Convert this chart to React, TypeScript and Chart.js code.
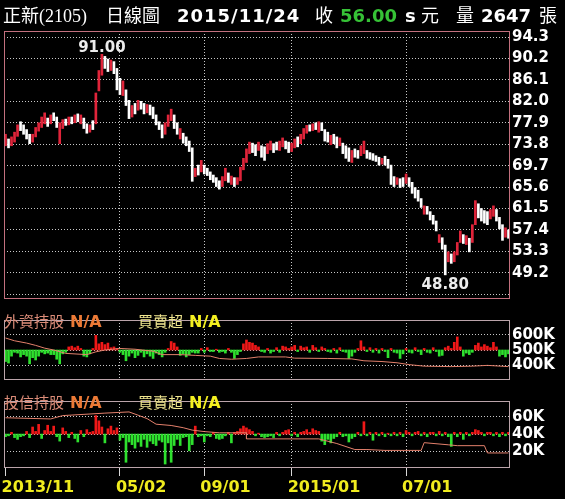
import React, { useEffect, useRef } from 'react';
import Chart from 'chart.js/auto';

// ---- x axis: one slot per three trading sessions, 2013/11 .. 2015/11/24 ----
const dateTickSlot = [0, 38, 66, 95, 133];
const dateTickText = ['2013/11', '05/02', '09/01', '2015/01', '07/01'];

// ---- price panel ----
const priceTicks = [94.3, 90.2, 86.1, 82.0, 77.9, 73.8, 69.7, 65.6, 61.5, 57.4, 53.3, 49.2, 45.1];

const priceHigh = [
  75.7, 74.8, 75.2, 76.1, 77.5, 78.1, 77.5, 76.6, 75.7, 75.7,
  77.0, 77.9, 79.0, 79.8, 78.8, 79.4, 79.8, 79.0, 77.9, 78.5,
  78.6, 79.0, 79.0, 79.4, 79.6, 79.4, 78.8, 77.7, 77.5, 78.3,
  83.6, 87.9, 91.0, 90.6, 90.1, 89.9, 89.6, 88.3, 86.4, 85.9,
  84.2, 82.2, 81.2, 81.6, 82.2, 82.0, 81.6, 81.4, 81.3, 80.9,
  79.4, 78.1, 77.5, 77.9, 79.4, 80.5, 79.4, 77.9, 76.8, 75.9,
  75.2, 74.4, 73.1, 69.2, 69.8, 70.7, 69.8, 69.2, 68.5, 67.9,
  67.4, 66.8, 67.6, 69.2, 68.3, 67.7, 67.4, 67.4, 69.4, 71.1,
  72.9, 74.2, 74.0, 73.7, 74.2, 73.5, 73.3, 73.9, 74.4, 73.9,
  74.2, 74.4, 75.0, 74.4, 74.2, 74.0, 74.8, 75.2, 75.7, 76.8,
  77.4, 77.5, 77.7, 77.9, 78.1, 77.9, 76.6, 76.1, 75.5, 75.7,
  75.2, 75.0, 74.0, 73.5, 73.1, 72.6, 72.9, 72.6, 73.5, 74.4,
  72.6, 72.2, 72.0, 71.6, 71.3, 71.1, 71.5, 70.9, 69.8, 67.6,
  67.4, 67.2, 67.4, 68.1, 67.4, 66.5, 65.5, 65.0, 63.4, 62.0,
  61.9, 60.9, 60.2, 59.1, 56.5, 55.9, 54.5, 53.2, 52.8, 53.2,
  55.0, 57.2, 56.5, 56.3, 55.8, 58.4, 63.0, 62.4, 61.5, 61.1,
  60.9, 61.3, 62.0, 61.3, 59.8, 58.4, 57.8, 57.4,
];

const priceLow = [
  73.5, 73.1, 73.5, 74.2, 75.3, 76.4, 75.7, 74.8, 73.9, 74.2,
  75.2, 76.3, 77.0, 77.7, 77.2, 77.7, 78.3, 77.0, 73.9, 76.8,
  77.4, 77.5, 77.7, 77.9, 78.1, 77.7, 76.8, 75.9, 76.1, 76.6,
  77.7, 84.0, 87.0, 88.3, 87.7, 87.9, 87.3, 84.2, 83.3, 83.1,
  81.2, 78.7, 79.0, 79.6, 80.3, 80.5, 79.6, 79.8, 79.4, 78.7,
  77.5, 76.6, 75.0, 75.7, 77.2, 78.3, 76.8, 75.7, 74.8, 74.0,
  73.5, 72.4, 66.7, 67.6, 67.9, 68.5, 68.1, 67.8, 67.0, 66.5,
  65.7, 65.2, 65.7, 66.8, 66.5, 66.1, 65.7, 66.1, 66.8, 68.9,
  70.3, 72.0, 72.2, 71.6, 72.6, 71.3, 70.7, 72.0, 72.7, 72.2,
  72.7, 72.6, 73.3, 72.9, 72.2, 72.4, 73.1, 73.3, 73.9, 74.8,
  75.9, 76.3, 76.4, 76.6, 76.1, 76.4, 74.4, 74.2, 73.7, 73.9,
  73.1, 73.5, 72.0, 71.1, 70.5, 70.3, 71.3, 71.1, 71.6, 72.0,
  71.1, 70.9, 70.7, 70.5, 69.8, 70.0, 69.8, 69.2, 66.1, 65.7,
  66.1, 65.5, 65.7, 66.3, 65.7, 64.4, 63.5, 62.9, 61.7, 60.4,
  60.4, 59.3, 58.5, 57.2, 55.0, 53.7, 48.8, 51.3, 51.0, 51.3,
  52.6, 55.0, 54.8, 54.6, 53.2, 55.0, 58.4, 59.7, 59.1, 58.7,
  58.4, 59.5, 60.0, 59.1, 57.6, 55.4, 56.0, 55.8,
];

// R = closed higher (red), W = closed lower (white)
const priceDir = (
  'RWRRRWWWWR' + 'RRRRWRWWRR' + 'WRWRWRWWRW' + 'RRRWWRWWWR' + 'WWRWRWWRWW' +
  'WWWRRRWWRW' + 'WWWRWRWWWW' + 'WWRRWRWRRR' + 'RRWWRWWRRW' + 'WRRWWRRWRR' +
  'RWRWRWWWRW' + 'WRWWWRWWRR' + 'WWWWWRWWWW' + 'RWWRWWWWWR' + 'WWWWRWWRWR' +
  'RRWRWRRWWW' + 'WRRWWWRW'
).split('');

// ---- foreign investors: holdings (K) and net buy/sell ----
const foreignTicks = [400, 500, 600];
const foreignHoldSlot = [0, 3, 7, 10, 13, 16, 20, 27, 30, 33, 38, 43, 49, 52, 58, 63, 68, 71, 75, 80, 84, 93, 96, 107, 115, 119, 125, 130, 134, 139, 148, 155, 160, 167];
const foreignHold = [578, 560, 545, 530, 512, 500, 478, 470, 488, 500, 510, 505, 492, 470, 470, 465, 460, 445, 440, 445, 455, 455, 447, 445, 442, 430, 425, 417, 405, 395, 392, 395, 400, 392];
const foreignNet = [
  -15, -17, -8, -3, -4, -9, -6, -8, -18, -10,
  -13, -8, -3, -5, -4, -6, -6, -12, -18, -5,
  -3, 4, 5, 3, 5, 2, -8, -9, -5, 2,
  19, 8, 10, 7, 9, 3, 4, 2, -3, -6,
  -14, -8, -4, -10, -7, -3, -9, -5, -8, -11,
  -4, -6, -9, -3, 2, 11, 9, 4, -7, -5,
  -9, -6, -3, -4, -4, 2, -3, 3, -2, -2,
  1, -3, -2, -4, 2, -3, -11, -6, -2, 8,
  13, 10, 9, 6, 4, -2, -3, 2, -4, -2,
  3, -3, 5, 4, 2, 4, 6, -2, 5, 3,
  4, -3, 6, 3, -2, 4, 2, -2, -3, 2,
  -4, 3, -2, -3, -11, -8, -3, 2, 12, 4,
  -2, 3, -3, 2, -4, 2, -2, -10, 2, -3,
  -4, -11, -5, 2, -3, -4, 3, -2, -6, 2,
  -3, -4, 3, -2, -8, -7, 3, 5, 2, 10,
  17, 4, -8, -4, -6, -3, 6, 9, 4, 7,
  5, 3, 10, 4, -8, -6, -9, -5,
];

// ---- investment trusts: holdings (K) and net buy/sell ----
const trustTicks = [20, 40, 60];
const trustHoldSlot = [0, 15, 19, 33, 41, 44, 47, 50, 55, 59, 62, 66, 71, 80, 80, 104, 110, 116, 120, 126, 138, 139, 147, 150, 159, 160, 167];
const trustHold = [59, 57.6, 61.5, 64.4, 65.8, 62, 58, 51.5, 50, 47.4, 44.6, 42.9, 41.5, 41.5, 34.4, 34.4, 29, 22, 22, 21, 21, 30, 27.5, 26.5, 26.5, 18, 18];
const trustNet = [
  -3, -2, 2, -4, -6, -3, -2, 3, -4, 8,
  3, 11, -5, 4, 10, 3, 9, -3, -8, 7,
  3, -4, 2, -5, -9, 4, -3, 5, 2, 3,
  21, 15, 8, -10, 6, 9, 4, 7, -7, -4,
  -32, -9, -12, -16, -9, -14, -6, -15, -8, -11,
  -13, -7, -9, -34, -10, -32, -13, -6, -13, -4,
  -3, -19, -12, 9, -3, -2, -9, -2, -3, 2,
  -5, -6, -5, -2, 2, -10, 2, 3, 6, 9,
  7, 5, 3, -2, 1, -3, -4, -3, -2, -4,
  2, -2, 2, 4, 5, -2, 2, -3, 2, 3,
  5, 2, 6, 4, 3, -8, -12, -6, -10, -5,
  -3, 2, -3, -2, -9, -5, -3, 2, -2, 14,
  -2, 2, -7, 2, -2, 2, -3, 1, -2, 2,
  -2, 2, -3, 4, 2, -2, 2, 3, -2, 2,
  -3, 2, 2, -2, 3, -2, 2, -3, -14, 2,
  -3, 2, -6, 2, -2, 2, 5, 4, 2, -2,
  2, 2, -2, 2, -3, 2, -2, 2,
];

// ---- styling ----
const SLOTS = priceHigh.length;
const SANS = "'DejaVu Sans', sans-serif";
const CJK = "'Noto Sans CJK TC', sans-serif";
const GRID = '#c8c8c8';
const UP_RED = '#e0243a';
const BAR_RED = '#f01818';
const BAR_GREEN = '#2ee02e';
const HOLD_LINE = '#e4806c';
const AXIS_FONT = { family: SANS, size: 15, weight: 'bold' as const };

const frame = (color: string) => ({
  id: 'panelFrame',
  afterDraw(chart: any) {
    const { ctx, chartArea: a } = chart;
    ctx.save();
    ctx.strokeStyle = color;
    ctx.lineWidth = 1;
    ctx.strokeRect(Math.round(a.left) + 0.5, Math.round(a.top) + 0.5,
      Math.round(a.right - a.left) - 1, Math.round(a.bottom - a.top) - 1);
    ctx.restore();
  },
});

// labels for the highest high and the lowest low
const extremes = {
  id: 'extremes',
  afterDatasetsDraw(chart: any) {
    const { ctx, scales } = chart;
    let hi = 0;
    let lo = 0;
    priceHigh.forEach((v, i) => { if (v > priceHigh[hi]) hi = i; });
    priceLow.forEach((v, i) => { if (v < priceLow[lo]) lo = i; });
    ctx.save();
    ctx.font = `bold 15px ${SANS}`;
    ctx.fillStyle = '#ececec';
    ctx.textAlign = 'center';
    ctx.textBaseline = 'alphabetic';
    ctx.fillText(priceHigh[hi].toFixed(2), scales.x.getPixelForValue(hi), scales.y.getPixelForValue(priceHigh[hi]) - 2);
    ctx.fillText(priceLow[lo].toFixed(2), scales.x.getPixelForValue(lo), scales.y.getPixelForValue(priceLow[lo]) + 14);
    ctx.restore();
  },
};

function xAxis(showLabels: boolean) {
  return {
    type: 'linear',
    offset: false,
    min: -0.5,
    max: SLOTS - 0.5,
    afterBuildTicks: (s: any) => { s.ticks = dateTickSlot.map((v) => ({ value: v })); },
    afterFit: (s: any) => { s.height = showLabels ? 31 : 0; },
    grid: {
      offset: false,
      color: (c: any) => (c.tick && c.tick.value === dateTickSlot[0] ? 'rgba(0,0,0,0)' : GRID),
      lineWidth: 1,
      drawTicks: showLabels,
      tickLength: 8,
      tickColor: '#d8d8d8',
      tickBorderDash: [],
    },
    border: { display: false, dash: [1, 2] },
    ticks: {
      display: showLabels,
      autoSkip: false,
      maxRotation: 0,
      minRotation: 0,
      align: 'start',
      labelOffset: -4,
      padding: 2,
      color: '#f0ec1e',
      font: { family: SANS, size: 16, weight: 'bold' },
      callback: (v: number) => {
        const k = dateTickSlot.indexOf(v);
        return k >= 0 ? dateTickText[k] : '';
      },
    },
  };
}

function yAxis(min: number, max: number, ticks: number[], fmt: (v: number) => string) {
  return {
    position: 'right',
    min,
    max,
    afterBuildTicks: (s: any) => { s.ticks = ticks.map((v) => ({ value: v })); },
    afterFit: (s: any) => { s.width = 55; },
    grid: { color: GRID, lineWidth: 1, drawTicks: false },
    border: { display: false, dash: [1, 2] },
    ticks: { padding: 2, color: '#ffffff', font: AXIS_FONT, callback: fmt },
  };
}

const common = {
  responsive: false,
  animation: false,
  devicePixelRatio: 1,
  events: [],
};

function priceConfig(): any {
  return {
    type: 'bar',
    data: {
      datasets: [{
        data: priceHigh.map((h, i) => ({ x: i, y: [priceLow[i], h] })),
        backgroundColor: priceDir.map((d) => (d === 'R' ? UP_RED : '#ffffff')),
        borderWidth: 0,
        barThickness: 2,
      }],
    },
    options: {
      ...common,
      layout: { padding: { left: 4, top: 31, right: 0, bottom: 1 } },
      plugins: { legend: { display: false }, tooltip: { enabled: false } },
      scales: {
        x: xAxis(false),
        y: yAxis(44.18, 95.46, priceTicks, (v: number) => (v < 46 ? '' : v.toFixed(1))),
      },
    },
    plugins: [frame('#c3707e'), extremes],
  };
}

function flowConfig(
  net: number[], holdSlot: number[], hold: number[],
  holdMin: number, holdMax: number, holdTicks: number[],
  netMin: number, netMax: number, showDates: boolean, padTop: number,
): any {
  return {
    type: 'bar',
    data: {
      datasets: [
        {
          type: 'line',
          data: holdSlot.map((s, k) => ({ x: s, y: hold[k] })),
          yAxisID: 'y',
          borderColor: HOLD_LINE,
          borderWidth: 1,
          pointRadius: 0,
          tension: 0,
          order: 1,
        },
        {
          type: 'bar',
          data: net.map((v, i) => ({ x: i, y: v })),
          yAxisID: 'net',
          backgroundColor: net.map((v) => (v >= 0 ? BAR_RED : BAR_GREEN)),
          borderWidth: 0,
          barThickness: 2,
          order: 2,
        },
      ],
    },
    options: {
      ...common,
      layout: { padding: { left: 4, top: padTop, right: 0, bottom: showDates ? 0 : 2 } },
      plugins: { legend: { display: false }, tooltip: { enabled: false } },
      scales: {
        x: xAxis(showDates),
        y: yAxis(holdMin, holdMax, holdTicks, (v: number) => `${v}K`),
        net: { display: false, min: netMin, max: netMax },
      },
    },
    plugins: [frame('#bba4aa')],
  };
}

function Cell({ w, style, children }: { w?: number; style: React.CSSProperties; children: React.ReactNode }) {
  return (
    <span style={{ display: 'inline-block', width: w, whiteSpace: 'pre', ...style }}>{children}</span>
  );
}

function PanelCaption({ top, label }: { top: number; label: string }) {
  return (
    <div style={{ position: 'absolute', left: 4, top, whiteSpace: 'nowrap', lineHeight: '18px', fontFamily: SANS }}>
      <Cell w={66} style={{ color: '#dc8c78', fontFamily: CJK, fontSize: 15 }}>{label}</Cell>
      <Cell w={68} style={{ color: '#ec7a36', fontWeight: 'bold', fontSize: 16 }}>N/A</Cell>
      <Cell w={51} style={{ color: '#efe58e', fontFamily: CJK, fontSize: 15 }}>買賣超</Cell>
      <Cell style={{ color: '#f4f020', fontWeight: 'bold', fontSize: 16 }}>N/A</Cell>
    </div>
  );
}

export default function App() {
  const priceRef = useRef<HTMLCanvasElement>(null);
  const foreignRef = useRef<HTMLCanvasElement>(null);
  const trustRef = useRef<HTMLCanvasElement>(null);

  useEffect(() => {
    const charts = [
      new Chart(priceRef.current!, priceConfig()),
      new Chart(foreignRef.current!, flowConfig(foreignNet, foreignHoldSlot, foreignHold, 305, 695, foreignTicks, -39, 39, false, 2)),
      new Chart(trustRef.current!, flowConfig(trustNet, trustHoldSlot, trustHold, 0.5, 78.5, trustTicks, -38.5, 37.5, true, 2)),
    ];
    return () => charts.forEach((c) => c.destroy());
  }, []);

  const bold = { fontFamily: SANS, fontWeight: 'bold' as const, fontSize: 18 };
  const cjk = { fontFamily: CJK, fontSize: 18 };

  return (
    <div style={{ position: 'fixed', left: 0, top: 0, width: 565, height: 499, background: '#000', overflow: 'hidden' }}>
      <canvas ref={priceRef} width={565} height={310} style={{ position: 'absolute', left: 0, top: 0, width: 565, height: 310 }} />
      <canvas ref={foreignRef} width={565} height={82} style={{ position: 'absolute', left: 0, top: 309, width: 565, height: 82 }} />
      <canvas ref={trustRef} width={565} height={109} style={{ position: 'absolute', left: 0, top: 390, width: 565, height: 109 }} />

      <div style={{ position: 'absolute', left: 3, top: 4, whiteSpace: 'nowrap', lineHeight: '20px', color: '#ffffff', fontFamily: SANS, fontSize: 18 }}>
        <Cell w={103} style={{ fontFamily: `'Liberation Serif', ${CJK}`, fontSize: 18 }}>正新(2105)</Cell>
        <Cell w={71} style={cjk}>日線圖</Cell>
        <Cell w={138} style={{ ...bold, letterSpacing: 1 }}>2015/11/24</Cell>
        <Cell w={25} style={cjk}>收</Cell>
        <Cell w={65} style={{ ...bold, color: '#36c236' }}>56.00</Cell>
        <Cell w={16} style={bold}>s</Cell>
        <Cell w={35} style={cjk}>元</Cell>
        <Cell w={25} style={cjk}>量</Cell>
        <Cell w={58} style={bold}>2647</Cell>
        <Cell style={cjk}>張</Cell>
      </div>

      <PanelCaption top={312} label="外資持股" />
      <PanelCaption top={393} label="投信持股" />
    </div>
  );
}
